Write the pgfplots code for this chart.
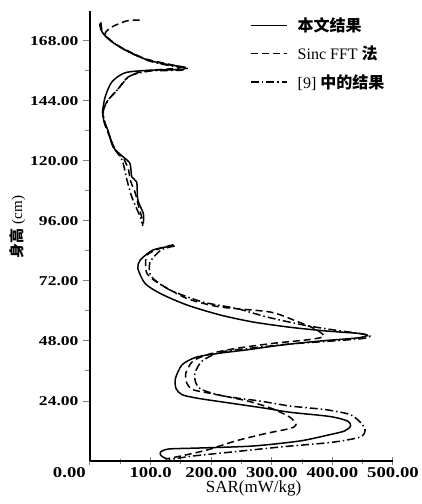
\documentclass[border=0pt]{standalone}
\usepackage{graphicx}
\usepackage{pgfplots}
\pgfplotsset{compat=1.18}
\usepackage{fontspec}
\setmainfont{Liberation Serif}
\newfontfamily\cjk{Noto Sans CJK SC}
\newcommand\yl[1]{\scalebox{1.3}[1]{\fontsize{13.5}{15}\selectfont\bfseries #1}}
\newcommand\xl[1]{\scalebox{1.25}[1]{\fontsize{15}{17}\selectfont\bfseries #1}}
\begin{document}
\begin{tikzpicture}
\useasboundingbox (-90pt,-43pt) rectangle (332pt,461pt);
\begin{axis}[
  scale only axis, width=303pt, height=450pt,
  xmin=0, xmax=500, ymin=0, ymax=180,
  clip=false,
  axis x line=bottom, axis y line=left,
  axis line style={line width=1.2pt,-},
  xtick={0,100,200,300,400,500},
  xticklabels={,\xl{100.0},\xl{200.00},\xl{300.00},\xl{400.00},\xl{500.00}},
  minor x tick num=1,
  ytick={24,48,72,96,120,144,168},
  yticklabels={\yl{24.00},\yl{48.00},\yl{72.00},\yl{96.00},\yl{120.00},\yl{144.00},\yl{168.00}},
  minor y tick num=1,
  x tick style={line width=1pt}, y tick style={line width=1pt},
  xtick align=center, ytick align=outside,
  major tick length=7pt, minor tick length=5pt,
  xticklabel style={yshift=1pt},
  yticklabel style={xshift=-1pt},
  xlabel={\fontsize{17}{19}\selectfont SAR(mW/kg)},
  xlabel style={at={(ticklabel cs:0.54)}, anchor=north, yshift=3pt},
  ylabel={\fontsize{15}{17}\selectfont{\cjk\bfseries 身高} (cm)},
  ylabel style={at={(ticklabel cs:0.52)}, anchor=south, yshift=-2pt},
  legend style={draw=none, fill=none, at={(rel axis cs:0.528,0.99)}, anchor=north west,
    font=\fontsize{16}{18}\selectfont, row sep=9pt, inner sep=0pt,
    nodes={inner xsep=10pt}},
  legend cell align=left,
  legend image code/.code={\draw[#1] (0pt,0pt) -- (36pt,0pt);},
  every axis plot/.append style={black, line width=1.5pt, smooth, tension=0.45},
]
% solid: this paper
\addplot[solid] coordinates {(16,175) (18,172.5) (25,170) (40,167) (61,164) (94,160.5) (130,158.5) (157,157.5) (150,156.6) (99,156.3) (58,155.3) (36,151.6) (25,145.6) (21,140) (23,136) (30,132) (38,125.6) (55,121.6) (66,119) (69,113.6) (77,111.6) (79,104.4) (88,99) (88,95)};
\addlegendentry{{\cjk\bfseries 本文结果}}
\addplot[dashed, dash pattern=on 7pt off 4pt] coordinates {(82,176.4) (60,176) (36,173.6) (25,171) (35,168) (55,165) (90,161) (125,159) (150,157.6) (140,157) (90,156) (63,153.6) (45,148.4) (30,144.4) (21,140) (24,135) (32,130) (42,124.5) (55,121) (63,117) (67,112) (75,107) (80,102) (86,97) (87,94)};
\addlegendentry{Sinc FFT {\cjk\bfseries 法}}
\addplot[dash pattern=on 8pt off 3pt on 1.5pt off 3pt] coordinates {(18,175.5) (20,172) (28,169.5) (44,166.5) (65,163.5) (98,160) (135,158) (160,157.3) (150,156.3) (100,156) (66,154) (45,148.4) (30,144.4) (22,140) (24,136) (31,131) (40,125) (53,120.4) (61,112.4) (69,105.6) (83,97.6) (86,95)};
\addlegendentry{[9] {\cjk\bfseries 中的结果}}
% lower segment
\addplot[solid, forget plot] coordinates {(135,86) (104,84.4) (83,80.4) (79,77) (91,71) (116,67) (160,62.4) (215,58.4) (269,55.6) (330,53.5) (390,52) (445,51) (458,50.2) (440,49.2) (380,48) (320,46.5) (260,44.5) (210,43) (175,41.5) (152,38.5) (141,33) (142,29) (152,26.5) (180,25) (236,23) (292,21) (330,19.5) (396,17.8) (425,16) (430,14) (420,12) (395,10.5) (346,8) (269,6) (181,5.2) (130,4.8) (116,3.5) (118,2) (127,0.8)};
\addplot[dashed, dash pattern=on 7pt off 4pt, forget plot] coordinates {(138,86.5) (115,85) (94,82.4) (92,78) (94,75) (110,71.6) (160,65) (215,61.6) (297,59.6) (340,56) (370,53) (385,50.5) (383,49.5) (360,48.5) (300,47) (240,45) (200,43) (170,40) (158,35) (160,31) (170,28.5) (200,27) (260,24) (300,21) (330,17.5) (340,14.5) (330,13) (290,11) (240,8) (193,4.4) (150,2) (125,0.8)};
\addplot[dash pattern=on 8pt off 3pt on 1.5pt off 3pt, forget plot] coordinates {(140,86) (118,84.5) (100,80) (98,76) (104,73) (132,68.4) (186,63.6) (242,61) (292,57.6) (350,54.5) (400,52.5) (445,51) (462,50) (450,49) (400,48) (330,46.8) (260,45) (215,43.5) (185,40) (173,35) (175,31) (185,28.5) (220,26) (280,24) (330,22) (390,20.5) (430,18.5) (448,15) (454,12.4) (446,9.6) (400,7.5) (314,5.6) (230,3.5) (170,2) (130,0.5)};
\node[anchor=north east, inner sep=0pt] at (axis cs:0,0) [yshift=-6pt, xshift=-4pt] {\xl{0.00}};
\end{axis}
\end{tikzpicture}
\end{document}
